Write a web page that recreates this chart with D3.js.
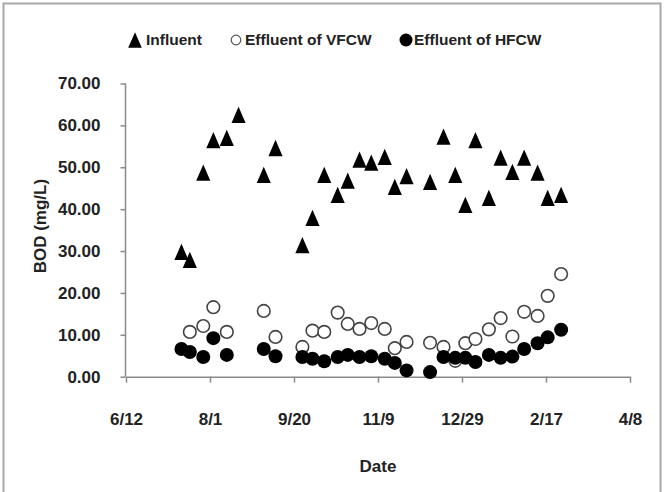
<!DOCTYPE html>
<html>
<head>
<meta charset="utf-8">
<script src="https://cdnjs.cloudflare.com/ajax/libs/d3/7.8.5/d3.min.js"></script>
<style>
  body { margin: 0; background: #fff; }
  text { font-family: "Liberation Sans", Arial, sans-serif; font-weight: bold; fill: #222; }
  .axis path, .axis line { stroke: #8a8a8a; stroke-width: 1.5; }
</style>
</head>
<body>
<div id="chart"></div>
<script>
  // sampling dates (m/d, 2008-2009)
  var dates = ["2008-07-15", "2008-07-20", "2008-07-28", "2008-08-03", "2008-08-11", "2008-08-18",
               "2008-09-02", "2008-09-09", "2008-09-25", "2008-10-01", "2008-10-08", "2008-10-16",
               "2008-10-22", "2008-10-29", "2008-11-05", "2008-11-13", "2008-11-19", "2008-11-26",
               "2008-12-10", "2008-12-18", "2008-12-25", "2008-12-31", "2009-01-06", "2009-01-14",
               "2009-01-21", "2009-01-28", "2009-02-04", "2009-02-12", "2009-02-18", "2009-02-26"];

  // BOD (mg/L)
  var influent = [29.8, 27.9, 48.7, 56.5, 57.0, 62.5, 48.2, 54.6, 31.4, 37.9, 48.2, 43.4, 46.8, 51.8, 51.1,
                  52.5, 45.3, 47.9, 46.5, 57.3, 48.2, 41.0, 56.5, 42.7, 52.3, 48.9, 52.3, 48.7, 42.7, 43.4];
  var vfcw = [null, 10.7, 12.1, 16.6, 10.7, null, 15.7, 9.5, 7.1, 11.0, 10.7, 15.3, 12.6, 11.4, 12.8,
              11.4, 6.8, 8.3, 8.1, 7.1, 3.8, 8.0, 9.0, 11.3, 14.0, 9.6, 15.5, 14.5, 19.3, 24.5];
  var hfcw = [6.6, 5.9, 4.7, 9.2, 5.2, null, 6.6, 4.9, 4.7, 4.3, 3.7, 4.7, 5.2, 4.7, 4.9,
              4.3, 3.3, 1.5, 1.1, 4.7, 4.5, 4.5, 3.5, 5.2, 4.5, 4.8, 6.6, 8.0, 9.4, 11.2];

  var xStart = "2008-06-12", xEnd = "2009-04-08", xStepDays = 50;
  var yTicks = [0, 10, 20, 30, 40, 50, 60, 70];
  var seriesNames = ["Influent", "Effluent of VFCW", "Effluent of HFCW"];

  var width = 665, height = 492,
      plot = {left: 126, right: 630, top: 83.5, bottom: 376.7};

  var parse = d3.utcParse("%Y-%m-%d");
  var start = parse(xStart);

  var x = d3.scaleUtc()
      .domain([start, parse(xEnd)])
      .range([plot.left, plot.right]);

  var y = d3.scaleLinear()
      .domain([0, 70])
      .range([plot.bottom, plot.top]);

  var svg = d3.select("#chart").append("svg")
      .attr("width", width)
      .attr("height", height);

  // outer frame
  svg.append("rect")
      .attr("x", 3.5).attr("y", 3.5)
      .attr("width", 657).attr("height", 600)
      .attr("fill", "none")
      .attr("stroke", "#a8a8a8")
      .attr("stroke-width", 2);

  var xTickValues = d3.range(0, 301, xStepDays).map(function(d) { return d3.utcDay.offset(start, d); });

  var xAxis = svg.append("g")
      .attr("class", "axis")
      .attr("transform", "translate(0," + plot.bottom + ")")
      .call(d3.axisBottom(x).tickValues(xTickValues).tickFormat(d3.utcFormat("%-m/%-d"))
              .tickSize(6).tickSizeOuter(0).tickPadding(30));
  xAxis.selectAll("text").style("font-size", "17px");

  var yAxis = svg.append("g")
      .attr("class", "axis")
      .attr("transform", "translate(" + (plot.left - 0.5) + ",0)")
      .call(d3.axisLeft(y).tickValues(yTicks).tickFormat(d3.format(".2f"))
              .tickSize(5).tickSizeOuter(0).tickPadding(20));
  yAxis.selectAll("text").style("font-size", "17px");
  yAxis.select(".domain").attr("d", "M0," + y(70) + "V" + y(0));

  svg.append("text")
      .attr("x", (plot.left + plot.right) / 2)
      .attr("y", 466)
      .attr("dy", "0.35em")
      .attr("text-anchor", "middle")
      .style("font-size", "17px")
      .text("Date");

  svg.append("text")
      .attr("transform", "translate(40," + ((plot.top + plot.bottom) / 2 - 4) + ") rotate(-90)")
      .attr("dy", "0.35em")
      .attr("text-anchor", "middle")
      .style("font-size", "17px")
      .text("BOD (mg/L)");

  // triangle centred on its bounding box
  var tri = {
    draw: function(ctx, size) {
      var w = Math.sqrt(size), h = w * 1.15;
      ctx.moveTo(0, -h / 2);
      ctx.lineTo(w / 2, h / 2);
      ctx.lineTo(-w / 2, h / 2);
      ctx.closePath();
    }
  };

  function points(values) {
    return dates.map(function(d, i) { return {date: parse(d), value: values[i]}; })
      .filter(function(d) { return d.value != null; });
  }

  svg.append("g").selectAll("path")
      .data(points(influent))
      .enter().append("path")
      .attr("transform", function(d) { return "translate(" + x(d.date) + "," + y(d.value) + ")"; })
      .attr("d", d3.symbol().type(tri).size(200))
      .attr("fill", "#000");

  svg.append("g").selectAll("circle")
      .data(points(vfcw))
      .enter().append("circle")
      .attr("cx", function(d) { return x(d.date); })
      .attr("cy", function(d) { return y(d.value); })
      .attr("r", 6.3)
      .attr("fill", "#fff")
      .attr("stroke", "#444")
      .attr("stroke-width", 1.6);

  svg.append("g").selectAll("circle")
      .data(points(hfcw))
      .enter().append("circle")
      .attr("cx", function(d) { return x(d.date); })
      .attr("cy", function(d) { return y(d.value); })
      .attr("r", 7)
      .attr("fill", "#000");

  // legend
  var legendY = 40;
  var legend = svg.append("g").attr("transform", "translate(0," + legendY + ")");

  legend.append("path")
      .attr("transform", "translate(135,0)")
      .attr("d", d3.symbol().type(tri).size(185))
      .attr("fill", "#000");
  legend.append("circle")
      .attr("cx", 236).attr("r", 4.8)
      .attr("fill", "#fff").attr("stroke", "#555").attr("stroke-width", 1.2);
  legend.append("circle")
      .attr("cx", 406).attr("r", 6.5)
      .attr("fill", "#000");

  legend.selectAll("text.lab")
      .data(seriesNames)
      .enter().append("text")
      .attr("class", "lab")
      .attr("x", function(d, i) { return [146, 245, 414][i]; })
      .attr("dy", "0.35em")
      .style("font-size", "15.5px")
      .text(function(d) { return d; });
</script>
</body>
</html>
